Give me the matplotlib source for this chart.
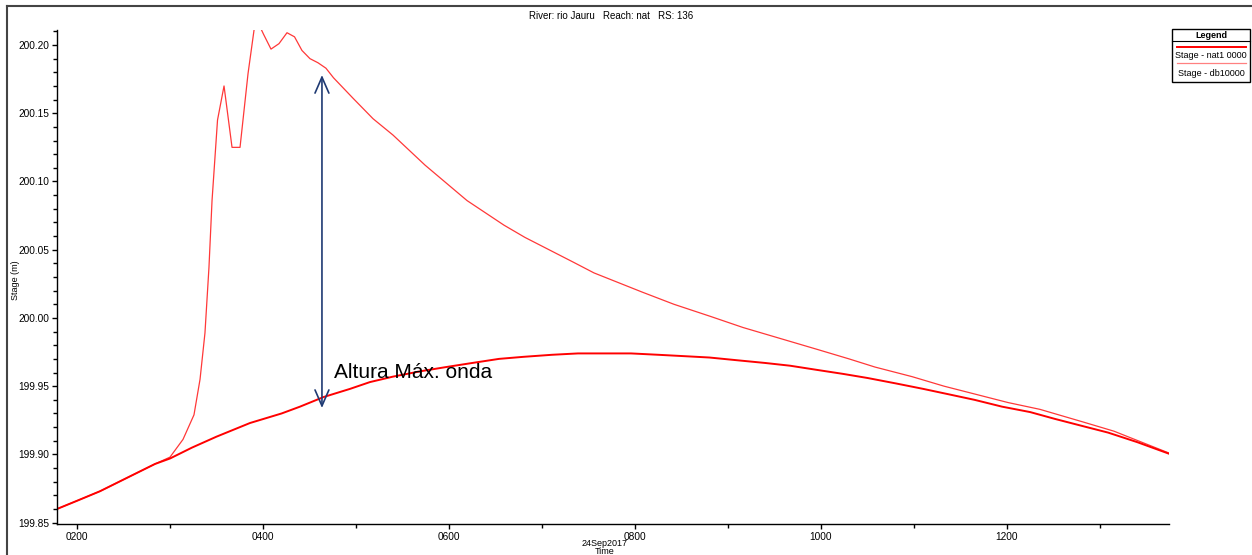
import matplotlib
matplotlib.use('Agg')
import matplotlib.pyplot as plt
from matplotlib.ticker import MultipleLocator, FuncFormatter
from matplotlib.patches import Rectangle
from matplotlib.lines import Line2D

# time in hours on 24Sep2017, stage in m
nat_time = [1.785, 2.0, 2.247, 2.602, 2.839, 3.0, 3.237, 3.5, 3.860, 4.2, 4.398, 4.65,
            4.935, 5.15, 5.398, 5.7, 5.968, 6.25, 6.538, 6.8, 7.108, 7.387, 7.7, 7.957,
            8.25, 8.527, 8.8, 9.097, 9.4, 9.667, 9.95, 10.237, 10.5, 10.806, 11.1,
            11.376, 11.65, 11.946, 12.25, 12.516, 12.8, 13.086, 13.4, 13.742]
nat_stage = [199.860, 199.866, 199.873, 199.885, 199.893, 199.897, 199.905, 199.913,
             199.923, 199.930, 199.935, 199.942, 199.948, 199.953, 199.957, 199.961,
             199.964, 199.967, 199.970, 199.9715, 199.973, 199.974, 199.974, 199.974,
             199.973, 199.972, 199.971, 199.969, 199.967, 199.965, 199.962, 199.959,
             199.956, 199.952, 199.948, 199.944, 199.940, 199.935, 199.931, 199.926,
             199.921, 199.916, 199.909, 199.9005]

db_time = [1.785, 2.247, 2.602, 2.839, 3.000, 3.140, 3.258, 3.323, 3.376, 3.419,
           3.452, 3.511, 3.581, 3.667, 3.753, 3.839, 3.922, 4.005, 4.086, 4.172,
           4.258, 4.339, 4.419, 4.505, 4.591, 4.677, 4.758, 4.968, 5.183, 5.398,
           5.742, 6.194, 6.591, 6.817, 7.333, 7.559, 8.075, 8.419, 8.817, 9.161,
           9.559, 9.957, 10.301, 10.581, 10.978, 11.323, 11.667, 12.011, 12.355,
           12.806, 13.151, 13.742]
db_stage = [199.860, 199.873, 199.885, 199.893, 199.898, 199.911, 199.929, 199.955,
            199.989, 200.037, 200.086, 200.145, 200.170, 200.125, 200.125, 200.179,
            200.220, 200.208, 200.197, 200.201, 200.209, 200.206, 200.196, 200.190,
            200.187, 200.183, 200.176, 200.161, 200.146, 200.134, 200.112, 200.086,
            200.068, 200.059, 200.041, 200.033, 200.019, 200.010, 200.001, 199.993,
            199.985, 199.977, 199.970, 199.964, 199.957, 199.950, 199.944, 199.938,
            199.933, 199.924, 199.917, 199.901]

arrow_time = 4.634
arrow_top = 200.178
arrow_bottom = 199.934

W, H = 1252, 555
fig = plt.figure(figsize=(W / 100, H / 100), dpi=100)
plt.rcParams['font.family'] = ['Liberation Sans', 'DejaVu Sans']

def fx(px):
    return px / W

def fy(py):
    return 1 - py / H

# outer frame
fig.add_artist(Line2D([fx(7), fx(7)], [fy(6), 0], color='#444444', lw=1.5))
fig.add_artist(Line2D([fx(7), 1], [fy(6), fy(6)], color='#444444', lw=1.5))

ax = fig.add_axes([fx(57), fy(524), fx(1169) - fx(57), fy(30) - fy(524)])
ax.plot(db_time, db_stage, color='#ff3838', lw=0.9)
ax.plot(nat_time, nat_stage, color='#ff0000', lw=1.4)

ax.set_xlim(1.785, 13.742)
ax.set_ylim(199.849, 200.211)
ax.spines['top'].set_visible(False)
ax.spines['right'].set_visible(False)
for s in ['left', 'bottom']:
    ax.spines[s].set_linewidth(1.0)

ax.xaxis.set_major_locator(MultipleLocator(2))
ax.xaxis.set_minor_locator(MultipleLocator(1))
ax.xaxis.set_major_formatter(FuncFormatter(lambda v, p: '%02d00' % int(round(v))))
ax.yaxis.set_major_locator(MultipleLocator(0.05))
ax.yaxis.set_minor_locator(MultipleLocator(0.01))
ax.yaxis.set_major_formatter(FuncFormatter(lambda v, p: '%.2f' % v))
ax.tick_params(which='both', direction='out', length=3.5, width=1.0, labelsize=7.3, pad=2)
ax.tick_params(which='minor', length=3)

ax.annotate('', xy=(arrow_time, arrow_top), xytext=(arrow_time, arrow_bottom),
            arrowprops=dict(arrowstyle='<->,head_length=1.15,head_width=0.5',
                            color='#1f3a73', lw=1.2, shrinkA=0, shrinkB=0,
                            mutation_scale=10))
fig.text(fx(334), fy(378), 'Altura Máx. onda', fontsize=15, va='baseline', ha='left')

fig.text(fx(611), fy(16), 'River: rio Jauru   Reach: nat   RS: 136', fontsize=7,
         ha='center', va='center')
fig.text(fx(16), fy(280), 'Stage (m)', fontsize=6.5, rotation=90, ha='center', va='center')
fig.text(fx(605), fy(543), '24Sep2017', fontsize=6.5, ha='center', va='center')
fig.text(fx(605), fy(551), 'Time', fontsize=6.5, ha='center', va='center')

# legend box
fig.add_artist(Rectangle((fx(1172), fy(82)), fx(1250) - fx(1172), fy(29) - fy(82),
                         fill=False, edgecolor='black', lw=1.0))
fig.text(fx(1211), fy(35), 'Legend', fontsize=6.5, fontweight='bold', ha='center', va='center')
fig.add_artist(Line2D([fx(1172), fx(1250)], [fy(41), fy(41)], color='black', lw=0.8))
fig.add_artist(Line2D([fx(1177), fx(1246)], [fy(47), fy(47)], color='#ff0000', lw=1.4))
fig.text(fx(1211), fy(56), 'Stage - nat1 0000', fontsize=6.5, ha='center', va='center')
fig.add_artist(Line2D([fx(1177), fx(1246)], [fy(63), fy(63)], color='#ff8080', lw=0.9))
fig.text(fx(1211), fy(73), 'Stage - db10000', fontsize=6.5, ha='center', va='center')

fig.savefig('out.png', dpi=100)
